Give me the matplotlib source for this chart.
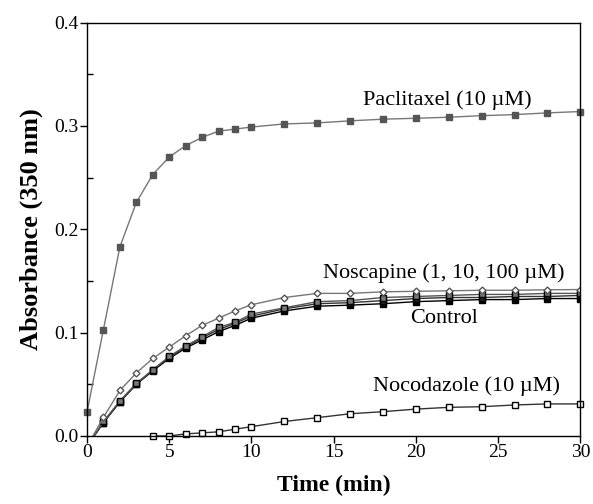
import matplotlib.pyplot as plt
from matplotlib.ticker import MultipleLocator

plt.rcParams['font.family'] = ['Liberation Serif', 'DejaVu Serif']

time = [0, 1, 2, 3, 4, 5, 6, 7, 8, 9, 10, 12, 14, 16, 18, 20, 22, 24, 26, 28, 30]
paclitaxel = [0.023, 0.103, 0.183, 0.226, 0.253, 0.270, 0.281, 0.289, 0.295, 0.297, 0.299,
              0.302, 0.303, 0.305, 0.3066, 0.3075, 0.3085, 0.310, 0.311, 0.3127, 0.314]
noscapine_a = [-0.01, 0.018, 0.044, 0.061, 0.075, 0.086, 0.097, 0.107, 0.114, 0.121, 0.127,
               0.134, 0.138, 0.138, 0.1395, 0.140, 0.1405, 0.141, 0.141, 0.1415, 0.1417]
noscapine_b = [-0.01, 0.014, 0.034, 0.051, 0.064, 0.077, 0.087, 0.096, 0.105, 0.110, 0.118,
               0.124, 0.130, 0.131, 0.134, 0.135, 0.136, 0.137, 0.137, 0.138, 0.138]
noscapine_c = [-0.01, 0.013, 0.033, 0.050, 0.064, 0.076, 0.086, 0.095, 0.103, 0.109, 0.116,
               0.123, 0.128, 0.129, 0.131, 0.133, 0.134, 0.134, 0.135, 0.135, 0.136]
control = [-0.01, 0.013, 0.033, 0.050, 0.063, 0.075, 0.085, 0.093, 0.101, 0.107, 0.114,
           0.121, 0.1256, 0.1266, 0.128, 0.130, 0.131, 0.132, 0.132, 0.133, 0.133]
noco_time = [4, 5, 6, 7, 8, 9, 10, 12, 14, 16, 18, 20, 22, 24, 26, 28, 30]
nocodazole = [0.0, 0.0, 0.002, 0.003, 0.004, 0.0065, 0.009, 0.014, 0.0177, 0.0215, 0.0235,
              0.026, 0.0277, 0.0283, 0.030, 0.031, 0.031]

fig = plt.figure(figsize=(5.93, 5.04), dpi=100)
ax = fig.add_axes([0.1467, 0.135, 0.832, 0.82])

ax.plot(time, paclitaxel, color='#777777', lw=1, marker='s', ms=5,
        mfc='#555555', mec='#555555', clip_on=False)
ax.plot(time, control, color='black', lw=1, marker='s', ms=5,
        mfc='black', mec='black')
ax.plot(time, noscapine_c, color='#333333', lw=1, marker='s', ms=5,
        mfc='#222222', mec='black')
ax.plot(time, noscapine_b, color='#555555', lw=1, marker='s', ms=4.5,
        mfc='#777777', mec='black')
ax.plot(time, noscapine_a, color='#777777', lw=1, marker='D', ms=3.5,
        mfc='white', mec='#555555')
ax.plot(noco_time, nocodazole, color='#333333', lw=1, marker='s', ms=4.5,
        mfc='white', mec='black', clip_on=False)

ax.text(21.9, 0.325, 'Paclitaxel (10 µM)', fontsize=16, ha='center', va='center')
ax.text(21.7, 0.158, 'Noscapine (1, 10, 100 µM)', fontsize=16, ha='center', va='center')
ax.text(21.7, 0.114, 'Control', fontsize=16, ha='center', va='center')
ax.text(23.1, 0.048, 'Nocodazole (10 µM)', fontsize=16, ha='center', va='center')

ax.set_xlim(0, 30)
ax.set_ylim(0, 0.4)
ax.xaxis.set_major_locator(MultipleLocator(5))
ax.yaxis.set_major_locator(MultipleLocator(0.1))
ax.yaxis.set_minor_locator(MultipleLocator(0.05))
ax.yaxis.set_major_formatter(plt.FuncFormatter(lambda v, p: f'{v:.1f}'))
ax.tick_params(which='major', direction='out', length=5, width=1, labelsize=14, pad=1)
ax.tick_params(which='minor', direction='in', length=4, width=1)
ax.tick_params(top=False, right=False)
for s in ax.spines.values():
    s.set_linewidth(1)

ax.set_xlabel('Time (min)', fontsize=17, fontweight='bold', labelpad=10)
ax.set_ylabel('Absorbance (350 nm)', fontsize=19, fontweight='bold', labelpad=8)

fig.savefig('out.png', dpi=100)
